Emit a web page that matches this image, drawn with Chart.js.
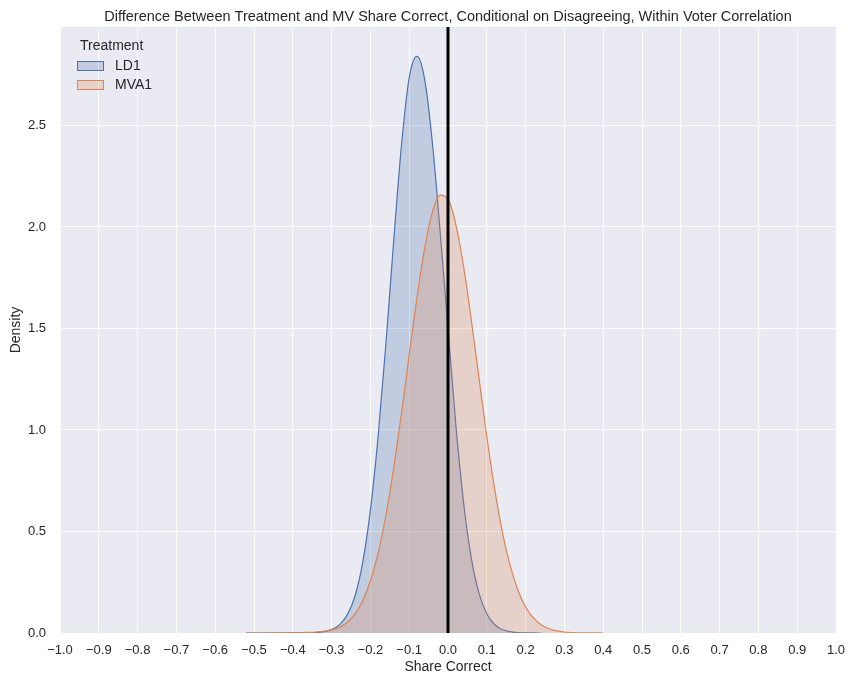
<!DOCTYPE html>
<html><head><meta charset="utf-8">
<script src="https://cdn.jsdelivr.net/npm/chart.js@4.4.1/dist/chart.umd.min.js"></script>
<style>html,body{margin:0;padding:0;background:#fff;} #wrap{width:848px;height:676px;}</style>
</head><body><div id="wrap"><canvas id="c" width="848" height="676"></canvas></div>
<script>
const chartTitle = 'Difference Between Treatment and MV Share Correct, Conditional on Disagreeing, Within Voter Correlation';
const legendTitle = 'Treatment';
const seriesNames = ['LD1', 'MVA1'];
const xTickValues = [-1.0,-0.9,-0.8,-0.7,-0.6,-0.5,-0.4,-0.3,-0.2,-0.1,0.0,0.1,0.2,0.3,0.4,0.5,0.6,0.7,0.8,0.9,1.0];
const yTickValues = [0.0,0.5,1.0,1.5,2.0,2.5];
const refLineX = 0;

const ld1X = [-0.52,-0.50,-0.48,-0.46,-0.44,-0.42,-0.40,-0.38,-0.36,-0.34,-0.32,-0.30,-0.28,-0.26,-0.24,-0.22,-0.20,-0.18,-0.16,-0.14,-0.12,-0.10,-0.08,-0.06,-0.04,-0.02,0.00,0.02,0.04,0.06,0.08,0.10,0.12,0.14,0.16,0.18,0.20,0.22,0.24];
const ld1Density = [0.0000,0.0000,0.0000,0.0000,0.0001,0.0001,0.0002,0.0004,0.0009,0.0024,0.0065,0.017,0.040,0.088,0.180,0.345,0.605,0.970,1.425,1.930,2.400,2.735,2.840,2.725,2.410,1.970,1.500,1.030,0.645,0.370,0.195,0.095,0.042,0.017,0.0065,0.0023,0.0008,0.0002,0.0000];

const mva1X = [-0.52,-0.50,-0.48,-0.46,-0.44,-0.42,-0.40,-0.38,-0.36,-0.34,-0.32,-0.30,-0.28,-0.26,-0.24,-0.22,-0.20,-0.18,-0.16,-0.14,-0.12,-0.10,-0.08,-0.06,-0.04,-0.02,0.00,0.02,0.04,0.06,0.08,0.10,0.12,0.14,0.16,0.18,0.20,0.22,0.24,0.26,0.28,0.30,0.32,0.34,0.36,0.38,0.40];
const mva1Density = [0.0000,0.0001,0.0001,0.0002,0.0004,0.0007,0.0012,0.0020,0.0032,0.0050,0.0085,0.0150,0.0280,0.0520,0.0930,0.158,0.256,0.395,0.580,0.812,1.080,1.370,1.652,1.897,2.074,2.157,2.137,2.014,1.807,1.543,1.254,0.968,0.712,0.498,0.334,0.212,0.128,0.074,0.041,0.021,0.0105,0.0050,0.0024,0.0011,0.0005,0.0002,0.0001];

const yMax = 2.985;
const FONT = '"Liberation Sans", Arial, Helvetica, sans-serif';
const TXT = '#262626';
const BLUE = '#4c72b0', ORANGE = '#dd8452';
const BLUE_F = 'rgba(76,114,176,0.25)', ORANGE_F = 'rgba(221,132,82,0.25)';

const toPts = (xs, ys) => xs.map((x, i) => ({x: x, y: ys[i]}));

const bgPlugin = {
  id: 'plotBg',
  beforeDraw(chart) {
    const a = chart.chartArea, ctx = chart.ctx;
    ctx.save();
    ctx.fillStyle = '#eaeaf2';
    ctx.fillRect(a.left, a.top, a.right - a.left, a.bottom - a.top);
    ctx.restore();
  }
};

const titlePlugin = {
  id: 'axTitle',
  afterDraw(chart) {
    const a = chart.chartArea, ctx = chart.ctx;
    ctx.save();
    ctx.font = '14.5px ' + FONT;
    ctx.fillStyle = TXT;
    ctx.textAlign = 'center';
    ctx.textBaseline = 'alphabetic';
    ctx.fillText(chartTitle, (a.left + a.right) / 2, 20.5);
    ctx.restore();
  }
};

const legendPlugin = {
  id: 'kdeLegend',
  afterDraw(chart) {
    const ctx = chart.ctx;
    ctx.save();
    ctx.font = '14px ' + FONT;
    ctx.fillStyle = TXT;
    ctx.textBaseline = 'middle';
    ctx.textAlign = 'left';
    ctx.fillText(legendTitle, 80, 46);
    const lines = [BLUE, ORANGE], fills = [BLUE_F, ORANGE_F];
    seriesNames.forEach((name, i) => {
      const y = 66 + i * 19;
      ctx.fillStyle = fills[i];
      ctx.fillRect(77, y - 5, 27, 10);
      ctx.strokeStyle = lines[i];
      ctx.lineWidth = 1;
      ctx.strokeRect(77.5, y - 4.5, 26, 9);
      ctx.fillStyle = TXT;
      ctx.fillText(name, 115, y);
    });
    ctx.restore();
  }
};

const fmt = v => (v < -1e-9 ? '\u2212' : '') + Math.abs(v).toFixed(1);

new Chart(document.getElementById('c'), {
  type: 'line',
  data: {
    datasets: [
      {
        label: 'ref', data: [{x: refLineX, y: 0}, {x: refLineX, y: yMax}],
        borderColor: '#000', borderWidth: 3, pointRadius: 0, fill: false, order: 0, tension: 0
      },
      {
        label: seriesNames[1], data: toPts(mva1X, mva1Density),
        borderColor: ORANGE, backgroundColor: ORANGE_F, borderWidth: 1.2, pointRadius: 0,
        fill: 'origin', cubicInterpolationMode: 'monotone', order: 1
      },
      {
        label: seriesNames[0], data: toPts(ld1X, ld1Density),
        borderColor: BLUE, backgroundColor: BLUE_F, borderWidth: 1.2, pointRadius: 0,
        fill: 'origin', cubicInterpolationMode: 'monotone', order: 2
      }
    ]
  },
  options: {
    responsive: false,
    animation: false,
    layout: {padding: {left: 0, right: 12, top: 27, bottom: 0}},
    plugins: {
      legend: {display: false},
      tooltip: {enabled: false},
      title: {display: false}
    },
    scales: {
      x: {
        type: 'linear', min: -1, max: 1,
        afterBuildTicks: s => { s.ticks = xTickValues.map(v => ({value: v})); },
        afterFit: s => { s.height = 43; s.paddingLeft = 0; s.paddingRight = 0; },
        ticks: {
          callback: v => fmt(v), color: TXT, font: {family: FONT, size: 13},
          padding: 10, autoSkip: false, maxRotation: 0, minRotation: 0
        },
        grid: {color: '#ffffff', lineWidth: 1, drawTicks: false},
        border: {display: false},
        title: {display: true, text: 'Share Correct', color: TXT, font: {family: FONT, size: 14}, padding: {top: 1, bottom: 0}}
      },
      y: {
        type: 'linear', min: 0, max: yMax,
        afterBuildTicks: s => { s.ticks = yTickValues.map(v => ({value: v})); },
        afterFit: s => { s.width = 60; s.paddingTop = 0; s.paddingBottom = 0; },
        ticks: {
          callback: v => fmt(v), color: TXT, font: {family: FONT, size: 13},
          padding: 14, includeBounds: false
        },
        grid: {color: '#ffffff', lineWidth: 1, drawTicks: false},
        border: {display: false},
        title: {display: true, text: 'Density', color: TXT, font: {family: FONT, size: 14}, padding: {top: 8, bottom: 0}}
      }
    }
  },
  plugins: [bgPlugin, titlePlugin, legendPlugin]
});
</script>
</body></html>
